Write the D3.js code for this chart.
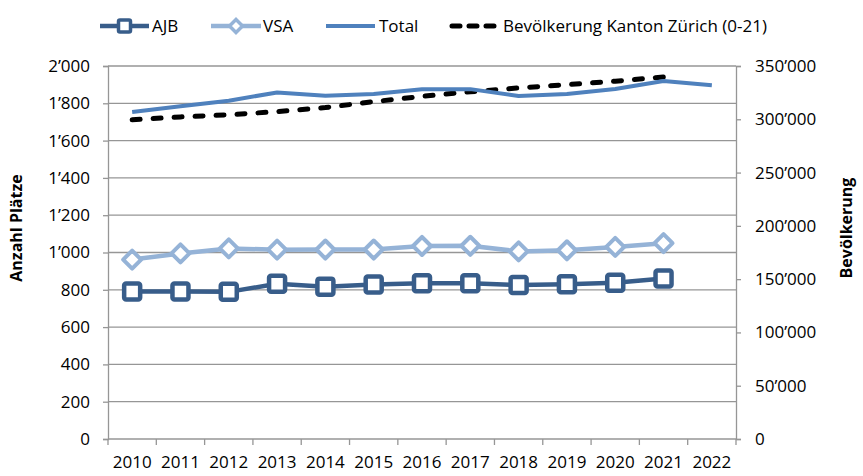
<!DOCTYPE html>
<html>
<head>
<meta charset="utf-8">
<script src="https://cdn.jsdelivr.net/npm/d3@7/dist/d3.min.js"></script>
<style>
html,body{margin:0;padding:0;background:#fff;}
svg{display:block;font-family:"Open Sans",sans-serif;}
</style>
</head>
<body>
<svg id="chart" width="863" height="476"></svg>
<script>
const years = ["2010","2011","2012","2013","2014","2015","2016","2017","2018","2019","2020","2021","2022"];
const ajb = [791, 791, 789, 832, 817, 828, 835, 835, 826, 830, 838, 861, null];
const vsa = [962, 995, 1022, 1015, 1016, 1016, 1035, 1036, 1006, 1012, 1030, 1050, null];
const total = [1753, 1784, 1814, 1858, 1840, 1850, 1875, 1876, 1839, 1850, 1877, 1920, 1897];
const bevoelkerung = [299500, 302200, 304200, 307200, 311000, 316500, 321500, 325800, 329400, 332500, 335700, 339700, null];
const leftTicks = [0,200,400,600,800,1000,1200,1400,1600,1800,2000];
const rightTicks = [0,50000,100000,150000,200000,250000,300000,350000];
const seriesNames = ["AJB","VSA","Total","Bevölkerung Kanton Zürich (0-21)"];
const leftTitle = "Anzahl Plätze";
const rightTitle = "Bevölkerung";

const svg = d3.select("#chart");
const L = 108, R = 736, T = 66, B = 439;
const x = d3.scaleBand().domain(years).range([L, R]).padding(0);
const cx = d => x(d) + x.bandwidth()/2;
const yL = d3.scaleLinear().domain([0, 2000]).range([B, T]);
const yR = d3.scaleLinear().domain([0, 350000]).range([B, T]);
const fmt = v => v === 0 ? "0" : d3.format(",")(v).replace(/,/g, "\u2019");

const gridCol = "#969696";
const C_AJB = "#385d8a", C_VSA = "#95b3d7", C_TOT = "#4f81bd";

// gridlines
svg.append("g").selectAll("line").data(leftTicks.filter(t=>t>0)).join("line")
  .attr("x1", L).attr("x2", R).attr("y1", d=>yL(d)).attr("y2", d=>yL(d))
  .attr("stroke", gridCol).attr("stroke-width", 1.3);

// left axis
const gL = svg.append("g").attr("transform", `translate(${L},0)`)
  .call(d3.axisLeft(yL).tickValues(leftTicks).tickFormat(fmt).tickSize(5).tickPadding(13));
// right axis
const gR = svg.append("g").attr("transform", `translate(${R},0)`)
  .call(d3.axisRight(yR).tickValues(rightTicks).tickFormat(fmt).tickSize(5).tickPadding(14));
// bottom axis
const gB = svg.append("g").attr("transform", `translate(0,${B})`)
  .call(d3.axisBottom(x).tickSize(0).tickPadding(20));
gB.selectAll(".tick").filter(function(){return false;});
// bottom ticks at band edges
svg.append("g").selectAll("line").data(years.concat(["end"])).join("line")
  .attr("x1", (d,i)=> L + i*x.bandwidth()).attr("x2", (d,i)=> L + i*x.bandwidth())
  .attr("y1", B).attr("y2", B+6).attr("stroke", gridCol).attr("stroke-width", 1.3);

[gL, gR, gB].forEach(g => {
  g.select(".domain").attr("stroke", gridCol).attr("stroke-width", 1.3);
  g.selectAll(".tick line").attr("stroke", gridCol).attr("stroke-width", 1.3);
  g.selectAll("text").attr("font-size", 17).attr("fill", "#000").attr("font-family", "Open Sans");
});
gB.select(".domain").attr("d", `M${L},0H${R}`);
gB.selectAll("text").attr("dy", "0.5em");

// axis titles
svg.append("text").attr("transform", "translate(22,228) rotate(-90)")
  .attr("text-anchor", "middle").attr("font-weight", "bold").attr("font-size", 16).text(leftTitle);
svg.append("text").attr("transform", "translate(852,228) rotate(-90)")
  .attr("text-anchor", "middle").attr("font-weight", "bold").attr("font-size", 16).text(rightTitle);

// lines
const idx = years.map((d,i)=>i);
function mkLine(vals, scale){
  return d3.line().defined(i => vals[i] !== null).x(i => cx(years[i])).y(i => scale(vals[i]));
}
svg.append("path").attr("d", mkLine(bevoelkerung, yR)(idx)).attr("fill","none")
  .attr("stroke","#000").attr("stroke-width",5).attr("stroke-dasharray","8,13").attr("stroke-linecap","round");
svg.append("path").attr("d", mkLine(total, yL)(idx)).attr("fill","none")
  .attr("stroke",C_TOT).attr("stroke-width",4).attr("stroke-linejoin","round");
svg.append("path").attr("d", mkLine(vsa, yL)(idx)).attr("fill","none")
  .attr("stroke",C_VSA).attr("stroke-width",4.5).attr("stroke-linejoin","round");
svg.append("path").attr("d", mkLine(ajb, yL)(idx)).attr("fill","none")
  .attr("stroke",C_AJB).attr("stroke-width",4.5).attr("stroke-linejoin","round");

// markers
const diamond = s => `M0,${-s}L${s},0L0,${s}L${-s},0Z`;
svg.append("g").selectAll("path").data(idx.filter(i=>vsa[i]!==null)).join("path")
  .attr("transform", i=>`translate(${cx(years[i])},${yL(vsa[i])})`)
  .attr("d", diamond(9)).attr("fill","#fff").attr("stroke",C_VSA).attr("stroke-width",4).attr("stroke-linejoin","round");
svg.append("g").selectAll("rect").data(idx.filter(i=>ajb[i]!==null)).join("rect")
  .attr("x", i=>cx(years[i])-8).attr("y", i=>yL(ajb[i])-8).attr("width",16).attr("height",16).attr("rx",2)
  .attr("fill","#fff").attr("stroke",C_AJB).attr("stroke-width",4.5);

// legend
const lg = svg.append("g");
const ly = 26;
const legendItems = [
  {x1:100,x2:149,tx:152,color:C_AJB,w:4.5,type:"square"},
  {x1:211,x2:261,tx:263,color:C_VSA,w:4.5,type:"diamond"},
  {x1:326,x2:375,tx:379,color:C_TOT,w:4,type:"none"},
  {x1:452,x2:500,tx:503,color:"#000",w:5,type:"dash"}
];
legendItems.forEach((it,k)=>{
  const ln = lg.append("line").attr("x1",it.x1).attr("x2",it.x2).attr("y1",ly).attr("y2",ly)
    .attr("stroke",it.color).attr("stroke-width",it.w);
  if(it.type==="dash"){ ln.attr("stroke-dasharray","8,9").attr("stroke-linecap","round"); }
  const mx = (it.x1+it.x2)/2;
  if(it.type==="square"){
    lg.append("rect").attr("x",mx-6).attr("y",ly-6).attr("width",12).attr("height",12).attr("rx",1.5)
      .attr("fill","#fff").attr("stroke",it.color).attr("stroke-width",3.5);
  } else if(it.type==="diamond"){
    lg.append("path").attr("transform",`translate(${mx},${ly})`).attr("d",diamond(6.5))
      .attr("fill","#fff").attr("stroke",it.color).attr("stroke-width",3.5);
  }
  lg.append("text").attr("x",it.tx).attr("y",ly).attr("dy","0.35em").attr("font-size",17).text(seriesNames[k]);
});
</script>
</body>
</html>
